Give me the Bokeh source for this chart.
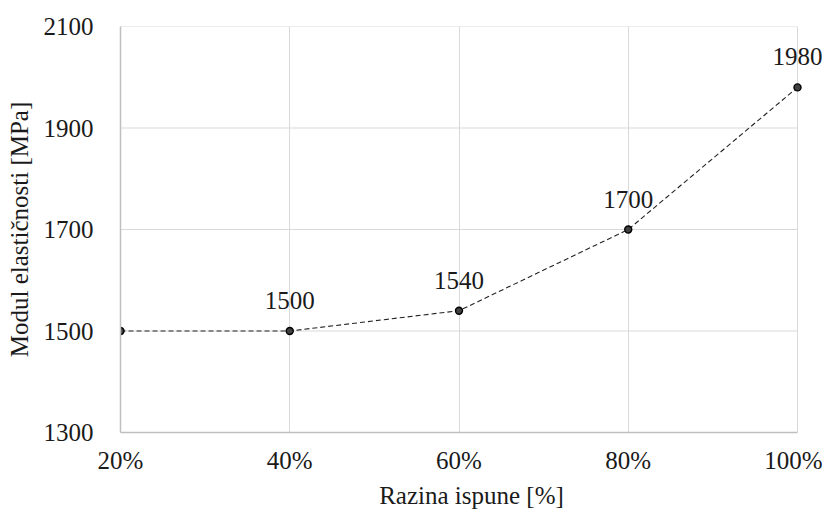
from bokeh.plotting import figure
from bokeh.models import Range1d, FixedTicker, ColumnDataSource, LabelSet
from bokeh.embed import file_html
from bokeh.resources import INLINE

fill_levels = [20, 40, 60, 80, 100]
fill_labels = ["20%", "40%", "60%", "80%", "100%"]
modulus = [1500, 1500, 1540, 1700, 1980]
point_labels = ["", "1500", "1540", "1700", "1980"]
y_ticks = [1300, 1500, 1700, 1900, 2100]

FONT = "Liberation Serif"
FS = "25px"
TXT = "#1a1a1a"

# frame: x 20..100 spans 677px; extend right so that the last label is not clipped
px_per_x = 677 / (fill_levels[-1] - fill_levels[0])
x_end = fill_levels[-1] + 25 / px_per_x

p = figure(width=822, height=515, output_backend="svg", toolbar_location=None,
           x_range=Range1d(fill_levels[0], x_end), y_range=Range1d(y_ticks[0], y_ticks[-1]),
           min_border_left=120, min_border_right=0, min_border_top=26, min_border_bottom=83)
p.outline_line_color = None
p.background_fill_color = "white"

# horizontal gridlines limited to the data x span
p.segment(x0=fill_levels[0], x1=fill_levels[-1], y0=y_ticks, y1=y_ticks,
          line_color="#d9d9d9", line_width=1)

src = ColumnDataSource(dict(x=fill_levels, y=modulus, t=point_labels))
p.line("x", "y", source=src, line_color="#222222", line_width=1.1, line_dash="5 3")
p.scatter("x", "y", source=src, size=7, fill_color="#404040", line_color="#000000", line_width=1.4)
labels = LabelSet(x="x", y="y", text="t", source=src, text_align="center",
                  text_baseline="alphabetic", y_offset=22, text_font=FONT,
                  text_font_size=FS, text_color=TXT)
p.add_layout(labels)

p.xaxis.ticker = FixedTicker(ticks=fill_levels)
p.xaxis.major_label_overrides = {v: l for v, l in zip(fill_levels, fill_labels)}
p.xaxis.bounds = (fill_levels[0], fill_levels[-1])
p.yaxis.ticker = FixedTicker(ticks=y_ticks)

for ax in (p.xaxis, p.yaxis):
    ax.major_tick_line_color = None
    ax.minor_tick_line_color = None
    ax.axis_line_color = "#bfbfbf"
    ax.axis_line_width = 1.5
    ax.major_label_text_font = FONT
    ax.major_label_text_font_size = FS
    ax.major_label_text_color = TXT
    ax.axis_label_text_font = FONT
    ax.axis_label_text_font_size = FS
    ax.axis_label_text_font_style = "normal"
    ax.axis_label_text_color = TXT

p.xaxis.axis_label = "Razina ispune [%]"
p.yaxis.axis_label = "Modul elastičnosti [MPa]"
p.xaxis.major_label_standoff = 8
p.yaxis.major_label_standoff = 21
p.xaxis.axis_label_standoff = 5
p.yaxis.axis_label_standoff = 8

p.xgrid.grid_line_color = "#d9d9d9"
p.xgrid.grid_line_width = 1
p.ygrid.visible = False

open("out.html", "w").write(file_html(p, INLINE))
